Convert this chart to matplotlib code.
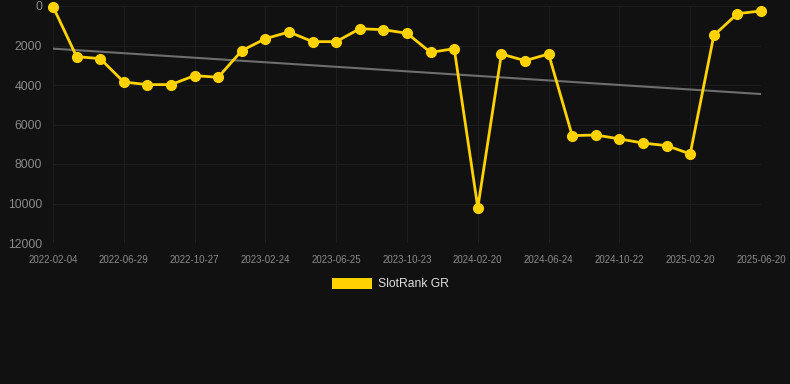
import numpy as np
import matplotlib.pyplot as plt
from matplotlib.patches import Patch

plt.rcParams['font.family'] = ['Liberation Sans', 'DejaVu Sans']

# rank values, one per period (lower is better -> axis inverted)
ranks = [30, 2565, 2665, 3850, 3980, 3980, 3525, 3610, 2260, 1655,
         1315, 1805, 1805, 1150, 1200, 1380, 2350, 2160, 10210, 2430,
         2770, 2430, 6565, 6530, 6730, 6940, 7070, 7490, 1490, 390, 250]
tick_labels = ['2022-02-04', '2022-06-29', '2022-10-27', '2023-02-24', '2023-06-25',
               '2023-10-23', '2024-02-20', '2024-06-24', '2024-10-22', '2025-02-20',
               '2025-06-20']
y_ticks = [0, 2000, 4000, 6000, 8000, 10000, 12000]

bg = '#111111'
gold = '#FFD200'

fig = plt.figure(figsize=(7.9, 3.84), dpi=100, facecolor=bg)
ax = fig.add_axes([53/790, 1 - 243/384, (761-53)/790, (243-6)/384])
ax.set_facecolor(bg)

x = np.arange(len(ranks))
# linear trend
k, b = np.polyfit(x, ranks, 1)
ax.plot(x, k*x + b, color='#6e6e6e', lw=1.5, zorder=2)
ax.plot(x, ranks, color=gold, lw=2, marker='o', ms=7, zorder=3, clip_on=False)

ax.set_xlim(0, len(ranks) - 1)
ax.set_ylim(12000, 0)
ax.set_xticks(x[::3])
ax.set_xticklabels(tick_labels)
ax.set_yticks(y_ticks)
ax.grid(True, color='#1d1d1d', lw=0.8)
ax.set_axisbelow(True)
for s in ax.spines.values():
    s.set_visible(False)
ax.tick_params(axis='x', length=0, pad=8.5, labelsize=7, labelcolor='#8a8a8a')
ax.tick_params(axis='y', length=0, pad=8, labelsize=8.8, labelcolor='#8a8a8a')

fig.legend(handles=[Patch(facecolor=gold, label='SlotRank GR')],
           loc='center', bbox_to_anchor=(0.494, 1 - 284/384), frameon=False,
           fontsize=8.7, labelcolor='#dddddd', handlelength=3.3, handleheight=1.0,
           handletextpad=0.5)

fig.savefig('out.png', dpi=100, facecolor=bg)
